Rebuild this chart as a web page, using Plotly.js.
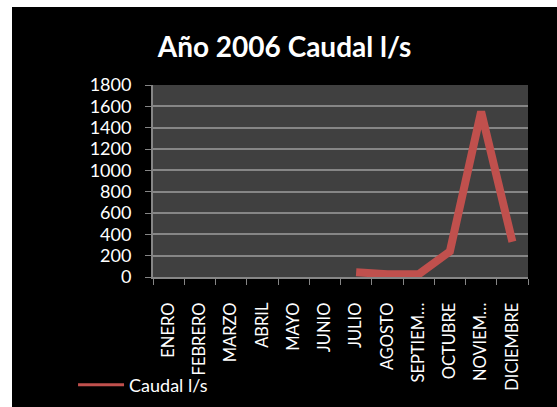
<!DOCTYPE html>
<html>
<head>
<meta charset="utf-8">
<script src="https://cdn.plot.ly/plotly-3.0.1.min.js"></script>
<style>
  html, body { margin: 0; padding: 0; background: #ffffff; width: 557px; height: 407px; overflow: hidden; }
  #chart { position: absolute; left: 12px; top: 7px; width: 545px; height: 400px; }
</style>
</head>
<body>
<div id="chart"></div>
<script>
const months = ["ENERO", "FEBRERO", "MARZO", "ABRIL", "MAYO", "JUNIO", "JULIO", "AGOSTO", "SEPTIEM…", "OCTUBRE", "NOVIEM…", "DICIEMBRE"];
const caudal = [null, null, null, null, null, null, 45, 25, 25, 240, 1550, 330];
const seriesName = "Caudal l/s";
const chartTitle = "Año 2006 Caudal l/s";
const yTicks = [0, 200, 400, 600, 800, 1000, 1200, 1400, 1600, 1800];

const FONT = "Lato, 'Open Sans', sans-serif";
const GRID = "#868686";
const RED = "#C0504D";

const trace = {
  x: months,
  y: caudal,
  type: "scatter",
  mode: "lines",
  name: seriesName,
  connectgaps: false,
  line: { color: RED, width: 8, shape: "linear" },
  showlegend: false
};

// legend key only (no visible data), thinner line like the original legend
const legendKey = {
  x: [null], y: [null],
  type: "scatter",
  mode: "lines",
  name: seriesName,
  line: { color: RED, width: 3 },
  showlegend: true,
  hoverinfo: "skip"
};

const layout = {
  width: 545,
  height: 400,
  paper_bgcolor: "#000000",
  plot_bgcolor: "#404040",
  margin: { l: 141, r: 29, t: 78, b: 130 },
  font: { family: FONT, color: "#ffffff", size: 18 },
  title: {
    text: "<b>" + chartTitle + "</b>",
    font: { family: FONT, size: 28, color: "#ffffff" },
    x: 0.5, xanchor: "center",
    y: 0.9, yanchor: "middle"
  },
  xaxis: {
    type: "category",
    categoryorder: "array",
    categoryarray: months,
    range: [-0.5, months.length - 0.5],
    tickangle: -90,
    tickson: "boundaries",
    ticks: "outside",
    ticklen: 6,
    tickcolor: GRID,
    tickwidth: 1,
    showline: true,
    linecolor: GRID,
    linewidth: 2,
    showgrid: false,
    ticklabelstandoff: 17,
    tickfont: { family: FONT, size: 16.5, color: "#ffffff" },
    fixedrange: true
  },
  yaxis: {
    range: [0, 1800],
    tickvals: yTicks,
    ticks: "outside",
    ticklen: 6,
    tickcolor: GRID,
    tickwidth: 1,
    showline: true,
    linecolor: GRID,
    linewidth: 2,
    showgrid: true,
    gridcolor: GRID,
    gridwidth: 2,
    zeroline: false,
    ticklabelstandoff: 10,
    tickfont: { family: FONT, size: 18, color: "#ffffff" },
    fixedrange: true
  },
  showlegend: true,
  legend: {
    orientation: "h",
    xref: "container", yref: "container",
    x: 0.112, xanchor: "left",
    y: 0.055, yanchor: "middle",
    itemwidth: 46,
    bgcolor: "rgba(0,0,0,0)",
    font: { family: FONT, size: 18, color: "#ffffff" }
  }
};

Plotly.newPlot("chart", [trace, legendKey], layout, { displayModeBar: false, staticPlot: true });
</script>
</body>
</html>
